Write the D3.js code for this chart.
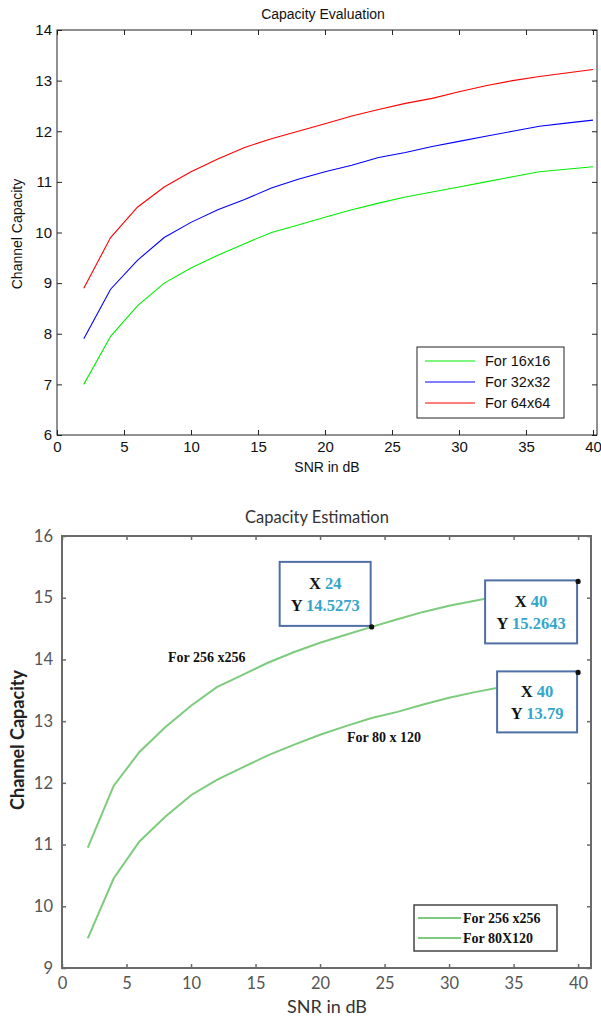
<!DOCTYPE html>
<html>
<head>
<meta charset="utf-8">
<script src="https://cdn.jsdelivr.net/npm/d3@7"></script>
<style>
  body { margin: 0; background: #fff; }
  svg { display: block; }
</style>
</head>
<body>
<script>
// ------------  DATA  ------------
const snr = [2, 4, 6, 8, 10, 12, 14, 16, 18, 20, 22, 24, 26, 28, 30, 32, 34, 36, 38, 40];

// top chart : Capacity Evaluation
const cap16 = [7.0, 7.95, 8.55, 9.0, 9.3, 9.55, 9.78, 10.0, 10.15, 10.3, 10.45, 10.58, 10.7, 10.8, 10.9, 11.0, 11.1, 11.2, 11.25, 11.3];
const cap32 = [7.9, 8.88, 9.45, 9.9, 10.2, 10.45, 10.65, 10.88, 11.05, 11.2, 11.33, 11.48, 11.58, 11.7, 11.8, 11.9, 12.0, 12.1, 12.16, 12.22];
const cap64 = [8.9, 9.9, 10.5, 10.9, 11.2, 11.45, 11.68, 11.85, 12.0, 12.15, 12.3, 12.43, 12.55, 12.65, 12.78, 12.9, 13.0, 13.08, 13.15, 13.22];
const topNames = ["For 16x16", "For 32x32", "For 64x64"];
const topXTicks = [0, 5, 10, 15, 20, 25, 30, 35, 40];
const topYTicks = [6, 7, 8, 9, 10, 11, 12, 13, 14];

// bottom chart : Capacity Estimation
const cap256 = [10.95, 11.95, 12.5, 12.9, 13.25, 13.55, 13.75, 13.95, 14.12, 14.27, 14.4, 14.5273, 14.65, 14.77, 14.87, 14.95, 15.03, 15.1, 15.18, 15.2643];
const cap80 = [9.48, 10.45, 11.05, 11.45, 11.8, 12.05, 12.25, 12.45, 12.62, 12.78, 12.92, 13.05, 13.15, 13.27, 13.38, 13.47, 13.55, 13.63, 13.71, 13.79];
const botNames = ["For 256 x256", "For 80X120"];
const curveLabels = ["For 256 x256", "For 80 x 120"];
const tipX = [24, 40, 40];
const tipY = ["14.5273", "15.2643", "13.79"];
const botXTicks = [0, 5, 10, 15, 20, 25, 30, 35, 40];
const botYTicks = [9, 10, 11, 12, 13, 14, 15, 16];

const svg = d3.select("body").append("svg").attr("width", 601).attr("height", 1019);

// =================  TOP CHART  =================
const tFont = "Liberation Sans, Arial, sans-serif";
const tx = d3.scaleLinear().domain([0, 40.3]).range([57, 597]);
const ty = d3.scaleLinear().domain([6, 14]).range([435, 30]);
const topG = svg.append("g");

topG.append("rect")
  .attr("x", tx(0)).attr("y", ty(14))
  .attr("width", tx(40.3) - tx(0)).attr("height", ty(6) - ty(14))
  .attr("fill", "none").attr("stroke", "#222").attr("stroke-width", 1);

function styleAxis(g, font, size, color) {
  g.select(".domain").remove();
  g.selectAll("line").attr("stroke", "#222");
  g.selectAll("text").attr("font-family", font).attr("font-size", size).attr("fill", color);
}

topG.append("g").attr("transform", "translate(0," + ty(6) + ")")
  .call(d3.axisBottom(tx).tickValues(topXTicks).tickSize(-5).tickPadding(6))
  .call(g => styleAxis(g, tFont, 15, "#111"));
topG.append("g").attr("transform", "translate(0," + ty(14) + ")")
  .call(d3.axisTop(tx).tickValues(topXTicks).tickSize(-5).tickFormat(""))
  .call(g => styleAxis(g, tFont, 15, "#111"));
topG.append("g").attr("transform", "translate(" + tx(0) + ",0)")
  .call(d3.axisLeft(ty).tickValues(topYTicks).tickSize(-5).tickPadding(5))
  .call(g => styleAxis(g, tFont, 15, "#111"));
topG.append("g").attr("transform", "translate(" + tx(40.3) + ",0)")
  .call(d3.axisRight(ty).tickValues(topYTicks).tickSize(-5).tickFormat(""))
  .call(g => styleAxis(g, tFont, 15, "#111"));

const topColors = ["#00ee00", "#0000ff", "#ff0000"];
const topSeries = [cap16, cap32, cap64];
const tLine = d3.line().x((d, i) => tx(snr[i])).y(d => ty(d));
topSeries.forEach((s, k) => {
  topG.append("path").datum(s).attr("d", tLine)
    .attr("fill", "none").attr("stroke", topColors[k]).attr("stroke-width", 1.1);
});

topG.append("text").attr("x", 323).attr("y", 19).attr("text-anchor", "middle")
  .attr("font-family", tFont).attr("font-size", 14).attr("fill", "#111").text("Capacity Evaluation");
topG.append("text").attr("x", 327).attr("y", 472).attr("text-anchor", "middle")
  .attr("font-family", tFont).attr("font-size", 14).attr("fill", "#111").text("SNR in dB");
topG.append("text").attr("transform", "translate(22,234) rotate(-90)").attr("text-anchor", "middle")
  .attr("font-family", tFont).attr("font-size", 14).attr("fill", "#111").text("Channel Capacity");

// legend
const tLeg = topG.append("g");
tLeg.append("rect").attr("x", 417).attr("y", 347).attr("width", 147).attr("height", 71)
  .attr("fill", "#fff").attr("stroke", "#222").attr("stroke-width", 1);
topNames.forEach((n, k) => {
  const yy = 361 + k * 21;
  tLeg.append("line").attr("x1", 425).attr("x2", 475).attr("y1", yy).attr("y2", yy)
    .attr("stroke", topColors[k]).attr("stroke-width", 1.1);
  tLeg.append("text").attr("x", 485).attr("y", yy + 5)
    .attr("font-family", tFont).attr("font-size", 14.5).attr("fill", "#111").text(n);
});

// =================  BOTTOM CHART  =================
const bFont = "Lato, Open Sans, sans-serif";
const sFont = "Liberation Serif, Times New Roman, serif";
const bx = d3.scaleLinear().domain([0, 41]).range([62, 591]);
const by = d3.scaleLinear().domain([9, 16]).range([968, 536]);
const bot = svg.append("g");

bot.append("rect")
  .attr("x", bx(0)).attr("y", by(16))
  .attr("width", bx(41) - bx(0)).attr("height", by(9) - by(16))
  .attr("fill", "none").attr("stroke", "#6a6a6a").attr("stroke-width", 2);

function styleB(g) {
  g.select(".domain").remove();
  g.selectAll("line").attr("stroke", "#6a6a6a").attr("stroke-width", 1.5);
  g.selectAll("text").attr("font-family", bFont).attr("font-size", 16.5).attr("fill", "#555");
}
bot.append("g").attr("transform", "translate(0," + by(9) + ")")
  .call(d3.axisBottom(bx).tickValues(botXTicks).tickSize(-4).tickPadding(9).tickFormat(d3.format("d")))
  .call(styleB);
bot.append("g").attr("transform", "translate(0," + by(16) + ")")
  .call(d3.axisTop(bx).tickValues(botXTicks).tickSize(-4).tickFormat(""))
  .call(styleB);
bot.append("g").attr("transform", "translate(" + bx(0) + ",0)")
  .call(d3.axisLeft(by).tickValues(botYTicks).tickSize(-4).tickPadding(9).tickFormat(d3.format("d")))
  .call(styleB);
bot.append("g").attr("transform", "translate(" + bx(41) + ",0)")
  .call(d3.axisRight(by).tickValues(botYTicks).tickSize(-4).tickFormat(""))
  .call(styleB);

const green = "#7dcb7d";
const bLine = d3.line().x((d, i) => bx(snr[i])).y(d => by(d));
[cap256, cap80].forEach(s => {
  bot.append("path").datum(s).attr("d", bLine)
    .attr("fill", "none").attr("stroke", green).attr("stroke-width", 2);
});

bot.append("text").attr("x", 317).attr("y", 523).attr("text-anchor", "middle")
  .attr("font-family", bFont).attr("font-size", 16.5).attr("fill", "#333").text("Capacity Estimation");
bot.append("text").attr("x", 327).attr("y", 1013).attr("text-anchor", "middle")
  .attr("font-family", bFont).attr("font-size", 18).attr("fill", "#333").text("SNR in dB");
bot.append("text").attr("transform", "translate(24,740) rotate(-90)").attr("text-anchor", "middle")
  .attr("font-family", bFont).attr("font-size", 18).attr("font-weight", "bold").attr("fill", "#222")
  .text("Channel Capacity");

// curve labels
bot.append("text").attr("x", 168).attr("y", 662).attr("font-family", sFont).attr("font-size", 14)
  .attr("font-weight", "bold").attr("fill", "#111").text(curveLabels[0]);
bot.append("text").attr("x", 347).attr("y", 742).attr("font-family", sFont).attr("font-size", 14)
  .attr("font-weight", "bold").attr("fill", "#111").text(curveLabels[1]);

// data tips
const tipSeries = [cap256, cap256, cap80];
const tipBoxes = [
  { w: 91, h: 64, corner: "br" },
  { w: 92, h: 63, corner: "tr" },
  { w: 80, h: 61, corner: "tr" }
];
tipX.forEach((xv, k) => {
  const px = bx(xv);
  const py = by(tipSeries[k][snr.indexOf(xv)]);
  const b = tipBoxes[k];
  const left = px - b.w - 1;
  const boxTop = b.corner === "br" ? py - b.h - 1 : py - 1;
  const g = bot.append("g");
  g.append("rect").attr("x", left).attr("y", boxTop).attr("width", b.w).attr("height", b.h)
    .attr("fill", "#fff").attr("stroke", "#4f6fa6").attr("stroke-width", 2);
  const cx = left + b.w / 2;
  const t1 = g.append("text").attr("x", cx).attr("y", boxTop + b.h / 2 - 5)
    .attr("text-anchor", "middle").attr("font-family", sFont).attr("font-size", 16.5).attr("font-weight", "bold");
  t1.append("tspan").attr("fill", "#111").text("X ");
  t1.append("tspan").attr("fill", "#35a6c9").text(xv);
  const t2 = g.append("text").attr("x", cx).attr("y", boxTop + b.h / 2 + 17)
    .attr("text-anchor", "middle").attr("font-family", sFont).attr("font-size", 16.5).attr("font-weight", "bold");
  t2.append("tspan").attr("fill", "#111").text("Y ");
  t2.append("tspan").attr("fill", "#35a6c9").text(tipY[k]);
  g.append("circle").attr("cx", px).attr("cy", py).attr("r", 2.6).attr("fill", "#111");
});

// legend
const bLeg = bot.append("g");
bLeg.append("rect").attr("x", 414).attr("y", 905).attr("width", 143).attr("height", 46)
  .attr("fill", "#fff").attr("stroke", "#444").attr("stroke-width", 1.5);
botNames.forEach((n, k) => {
  const yy = 918 + k * 20;
  bLeg.append("line").attr("x1", 418).attr("x2", 461).attr("y1", yy).attr("y2", yy)
    .attr("stroke", green).attr("stroke-width", 2);
  bLeg.append("text").attr("x", 463).attr("y", yy + 5)
    .attr("font-family", sFont).attr("font-size", 14).attr("font-weight", "bold").attr("fill", "#111").text(n);
});
</script>
</body>
</html>
